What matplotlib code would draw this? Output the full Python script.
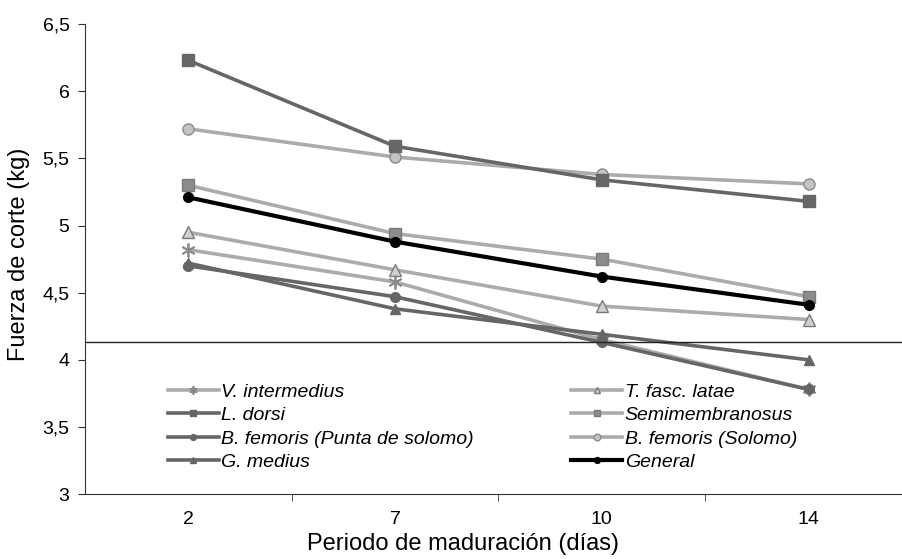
import matplotlib.pyplot as plt
from matplotlib.ticker import FixedLocator, FuncFormatter

plt.rcParams['font.family'] = ['Liberation Sans', 'DejaVu Sans']

dias = ['2', '7', '10', '14']
v_intermedius = [4.82, 4.58, 4.15, 3.78]
l_dorsi = [6.23, 5.59, 5.34, 5.18]
bf_punta = [4.70, 4.47, 4.13, 3.78]
g_medius = [4.72, 4.38, 4.19, 4.00]
t_fasc = [4.95, 4.67, 4.40, 4.30]
semimembranosus = [5.30, 4.94, 4.75, 4.47]
bf_solomo = [5.72, 5.51, 5.38, 5.31]
general = [5.21, 4.88, 4.62, 4.41]
referencia = 4.13

dark = '#666666'
light = '#ababab'

fig = plt.figure(figsize=(9.02, 5.59), dpi=100)
ax = fig.add_axes([0.094, 0.116, 0.917, 0.841])
x = range(len(dias))

lw = 2.6
ms = 8
ax.plot(x, bf_solomo, color=light, lw=lw, marker='o', ms=ms, mfc='#c4c4c4', mec='#8a8a8a', mew=1, label='B. femoris (Solomo)')
ax.plot(x, l_dorsi, color=dark, lw=lw, marker='s', ms=ms, mfc=dark, mec=dark, label='L. dorsi')
ax.plot(x, semimembranosus, color=light, lw=lw, marker='s', ms=ms, mfc='#8c8c8c', mec='#7a7a7a', label='Semimembranosus')
ax.plot(x, t_fasc, color=light, lw=lw, marker='^', ms=ms, mfc='#d0d0d0', mec='#7a7a7a', mew=1, label='T. fasc. latae')
ax.plot(x, v_intermedius, color=light, lw=lw, marker=(6, 2, 0), ms=ms + 2, mec='#8a8a8a', mew=1.3, label='V. intermedius')
ax.plot(x, bf_punta, color=dark, lw=lw, marker='o', ms=ms - 1, mfc=dark, mec=dark, label='B. femoris (Punta de solomo)')
ax.plot(x, g_medius, color=dark, lw=lw, marker='^', ms=ms - 1, mfc=dark, mec=dark, label='G. medius')
ax.plot(x, general, color='black', lw=lw + 0.4, marker='o', ms=ms - 1, mfc='black', mec='black', label='General', zorder=5)

ax.axhline(referencia, color='#222222', lw=1)

ax.set_xlim(-0.5, 3.5)
ax.set_ylim(3, 6.5)
ax.set_xticks(list(x))
ax.set_xticklabels(dias)
ax.xaxis.set_minor_locator(FixedLocator([0.5, 1.5, 2.5]))
ax.tick_params(axis='x', which='major', length=0, pad=12, labelsize=14)
ax.tick_params(axis='x', which='minor', length=5, direction='out', color='#333333')
ax.set_yticks([3, 3.5, 4, 4.5, 5, 5.5, 6, 6.5])
ax.yaxis.set_major_formatter(FuncFormatter(lambda v, p: ('%g' % v).replace('.', ',')))
ax.tick_params(axis='y', length=5, labelsize=14, color='#333333', pad=6)
for s in ['top', 'right']:
    ax.spines[s].set_visible(False)
for s in ['left', 'bottom']:
    ax.spines[s].set_color('#333333')

ax.set_xlabel('Periodo de maduración (días)', fontsize=17)
ax.set_ylabel('Fuerza de corte (kg)', fontsize=17)
ax.xaxis.set_label_coords(0.457, -0.083)
ax.yaxis.set_label_coords(-0.066, 0.51)

h, l = ax.get_legend_handles_labels()
order = ['V. intermedius', 'L. dorsi', 'B. femoris (Punta de solomo)', 'G. medius',
         'T. fasc. latae', 'Semimembranosus', 'B. femoris (Solomo)', 'General']
hd = dict(zip(l, h))
leg = ax.legend([hd[k] for k in order], order, ncol=2, loc='upper left',
                bbox_to_anchor=(168 / 902, 1 - 383 / 559), bbox_transform=fig.transFigure,
                frameon=False, borderpad=0, borderaxespad=0,
                prop={'style': 'italic', 'size': 14}, handlelength=2.6,
                handletextpad=0.15, labelspacing=0.3, columnspacing=5.0,
                markerscale=0.6)

fig.savefig('out.png', dpi=100)
